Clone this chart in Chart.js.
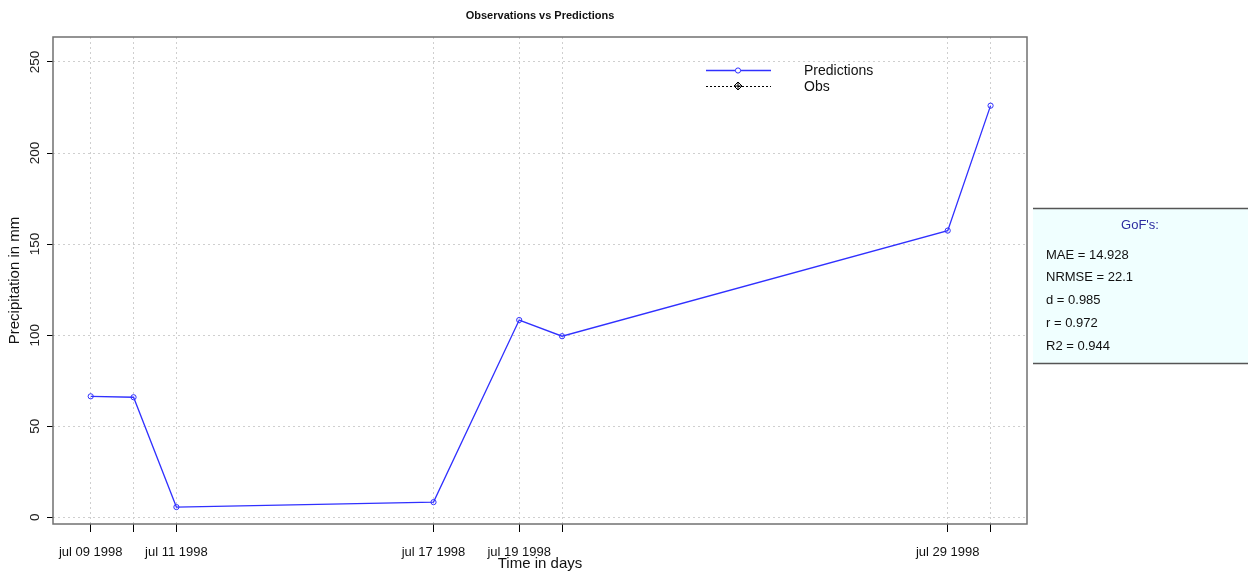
<!DOCTYPE html>
<html>
<head>
<meta charset="utf-8">
<script src="https://cdn.jsdelivr.net/npm/chart.js@4"></script>
<style>
  html, body { margin: 0; padding: 0; background: #ffffff; }
  #wrap { width: 1248px; height: 572px; position: relative; }
</style>
</head>
<body>
<div id="wrap"><canvas id="c" width="1248" height="572"></canvas></div>
<script>
// ---- data ----
const dates = ['1998-07-09', '1998-07-10', '1998-07-11', '1998-07-17', '1998-07-19', '1998-07-20', '1998-07-29', '1998-07-30'];
const predictions = [66.4, 65.9, 5.6, 8.3, 108.3, 99.4, 157.4, 226.0];
const observations = [null, null, null, null, null, null, null, null];
const xTickLabels = { '1998-07-09': 'jul 09 1998', '1998-07-11': 'jul 11 1998', '1998-07-17': 'jul 17 1998', '1998-07-19': 'jul 19 1998', '1998-07-29': 'jul 29 1998' };
const yTicks = [0, 50, 100, 150, 200, 250];
const gofLabels = ['MAE = 14.928', 'NRMSE = 22.1', 'd = 0.985', 'r = 0.972', 'R2 = 0.944'];
const seriesNames = ['Predictions', 'Obs'];
const chartTitle = 'Observations vs Predictions';
const xTitle = 'Time in days';
const yTitle = 'Precipitation in mm';

// ---- derived ----
const DAY = 86400000;
const t0 = Date.parse(dates[0]);
const dayVals = dates.map(d => Math.round((Date.parse(d) - t0) / DAY));

const FONT = '"Liberation Sans", Arial, sans-serif';

const overlay = {
  id: 'overlay',
  beforeDraw(chart) {
    const ctx = chart.ctx;
    ctx.save();
    ctx.fillStyle = '#ffffff';
    ctx.fillRect(0, 0, chart.width, chart.height);
    ctx.restore();
  },
  afterDraw(chart) {
    const ctx = chart.ctx;
    const a = chart.chartArea;
    const ys = chart.scales.y;
    ctx.save();
    // frame
    ctx.strokeStyle = '#707070';
    ctx.lineWidth = 1.5;
    ctx.strokeRect(a.left, a.top, a.right - a.left, a.bottom - a.top);

    // y tick labels (rotated)
    ctx.fillStyle = '#222';
    ctx.font = '13.5px ' + FONT;
    ctx.textAlign = 'center';
    ctx.textBaseline = 'middle';
    yTicks.forEach(v => {
      const py = ys.getPixelForValue(v);
      ctx.save();
      ctx.translate(35, py);
      ctx.rotate(-Math.PI / 2);
      ctx.fillText(String(v), 0, 0);
      ctx.restore();
    });

    // axis titles
    ctx.fillStyle = '#111';
    ctx.font = '15px ' + FONT;
    ctx.save();
    ctx.translate(15, (a.top + a.bottom) / 2);
    ctx.rotate(-Math.PI / 2);
    ctx.fillText(yTitle, 0, 0);
    ctx.restore();
    ctx.fillText(xTitle, (a.left + a.right) / 2, 564);

    // main title
    ctx.font = 'bold 11px ' + FONT;
    ctx.fillText(chartTitle, (a.left + a.right) / 2, 15.5);

    // legend
    const ds = chart.data.datasets;
    const lx0 = 706, lx1 = 771, lmx = 738, ltx = 804;
    const rows = [70, 86];
    ctx.font = '14px ' + FONT;
    ctx.textAlign = 'left';
    rows.forEach((ly, i) => {
      const d = ds[i];
      ctx.save();
      ctx.strokeStyle = d.borderColor;
      ctx.lineWidth = i === 0 ? 1.5 : 1;
      ctx.setLineDash(d.borderDash || []);
      ctx.beginPath();
      ctx.moveTo(lx0, ly + 0.5);
      ctx.lineTo(lx1, ly + 0.5);
      ctx.stroke();
      ctx.setLineDash([]);
      ctx.lineWidth = 1;
      if (i === 0) {
        ctx.fillStyle = '#ffffff';
        ctx.beginPath();
        ctx.arc(lmx, ly + 0.5, 2.6, 0, Math.PI * 2);
        ctx.fill();
        ctx.stroke();
      } else {
        ctx.strokeStyle = '#000';
        ctx.beginPath();
        ctx.moveTo(lmx, ly - 4); ctx.lineTo(lmx + 4, ly); ctx.lineTo(lmx, ly + 4); ctx.lineTo(lmx - 4, ly); ctx.closePath();
        ctx.moveTo(lmx, ly - 4); ctx.lineTo(lmx, ly + 4);
        ctx.moveTo(lmx - 4, ly); ctx.lineTo(lmx + 4, ly);
        ctx.stroke();
      }
      ctx.restore();
      ctx.fillStyle = '#111';
      ctx.textBaseline = 'middle';
      ctx.fillText(seriesNames[i], ltx, ly + 1);
    });

    // GoF box
    const bx = 1033, by = 208, bw = 1248 - 1033, bh = 364 - 208;
    ctx.fillStyle = '#F0FFFF';
    ctx.fillRect(bx, by, bw, bh);
    ctx.strokeStyle = '#555';
    ctx.lineWidth = 1.5;
    ctx.beginPath();
    ctx.moveTo(bx, by + 0.5); ctx.lineTo(bx + bw, by + 0.5);
    ctx.moveTo(bx, by + bh - 0.5); ctx.lineTo(bx + bw, by + bh - 0.5);
    ctx.stroke();
    ctx.font = '13px ' + FONT;
    ctx.textAlign = 'center';
    ctx.fillStyle = '#2b2ba0';
    ctx.fillText("GoF's:", 1140, 225);
    ctx.textAlign = 'left';
    ctx.fillStyle = '#111';
    gofLabels.forEach((t, i) => ctx.fillText(t, 1046, 255 + i * 22.8));
    ctx.restore();
  }
};

new Chart(document.getElementById('c'), {
  type: 'line',
  data: {
    datasets: [
      {
        label: seriesNames[0],
        data: dayVals.map((x, i) => ({ x: x, y: predictions[i] })),
        borderColor: '#3030ff',
        borderWidth: 1.3,
        pointRadius: 2.6,
        pointBorderWidth: 1,
        pointBorderColor: '#3030ff',
        pointBackgroundColor: 'rgba(255,255,255,0)',
        tension: 0,
        fill: false
      },
      {
        label: seriesNames[1],
        data: dayVals.map((x, i) => ({ x: x, y: observations[i] })),
        borderColor: '#000000',
        borderWidth: 1,
        borderDash: [2, 2],
        pointStyle: 'rectRot',
        pointRadius: 4,
        tension: 0,
        fill: false
      }
    ]
  },
  options: {
    responsive: false,
    animation: false,
    devicePixelRatio: 1,
    layout: { padding: { left: 0, right: 221, top: 37, bottom: 0 } },
    plugins: { legend: { display: false }, title: { display: false }, tooltip: { enabled: false } },
    scales: {
      x: {
        type: 'linear',
        min: -0.88,
        max: 21.85,
        afterBuildTicks: (scale) => { scale.ticks = dayVals.map(v => ({ value: v })); },
        afterFit: (scale) => { scale.height = 48; },
        border: { display: false, dash: [2, 3] },
        grid: { color: '#cfcfcf', lineWidth: 1, drawTicks: true, tickLength: 8, tickColor: '#000', tickWidth: 1, tickBorderDash: [] },
        ticks: {
          autoSkip: false,
          maxRotation: 0,
          minRotation: 0,
          padding: 13,
          color: '#111',
          font: { family: FONT, size: 13 },
          callback: (value, index) => xTickLabels[dates[index]] || ''
        }
      },
      y: {
        type: 'linear',
        min: -3.7,
        max: 263.7,
        afterBuildTicks: (scale) => { scale.ticks = yTicks.map(v => ({ value: v })); },
        afterFit: (scale) => { scale.width = 53; },
        border: { display: false, dash: [2, 3] },
        grid: { color: '#cfcfcf', lineWidth: 1, drawTicks: true, tickLength: 6, tickColor: '#000', tickWidth: 1, tickBorderDash: [] },
        ticks: { display: false }
      }
    }
  },
  plugins: [overlay]
});
</script>
</body>
</html>
